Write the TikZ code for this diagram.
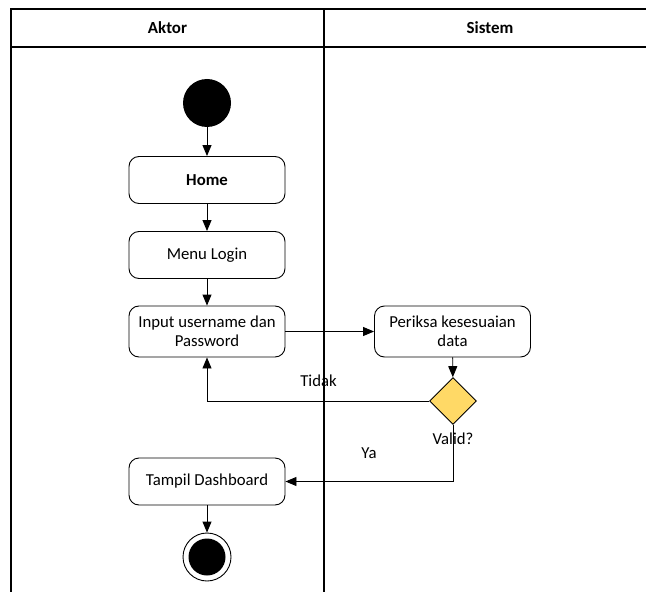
\documentclass[tikz,border=0pt]{standalone}
\usepackage{fontspec}
\setmainfont{Carlito}
\usetikzlibrary{shapes.geometric,arrows.meta}
\tikzset{
  act/.style={draw, line width=0.9bp, rounded corners=10bp, minimum width=156bp,
    minimum height=47bp, align=center, font=\fontsize{16.8}{19.5}\selectfont, inner sep=2bp},
  flow/.style={line width=0.9bp, -{Triangle[length=11bp,width=9bp]}},
  lane/.style={line width=1.2bp},
  lbl/.style={font=\fontsize{16.8}{19.5}\selectfont, inner sep=0pt},
  hdr/.style={font=\bfseries\fontsize{17}{20}\selectfont, inner sep=0pt},
}
\begin{document}
\begin{tikzpicture}[x=1bp, y=-1bp]
\useasboundingbox (0,0) rectangle (646,592);
% swimlane frame
\draw[lane] (11,592) -- (11,9) -- (646,9);
\draw[lane] (11,47) -- (646,47);
\draw[lane] (324,9) -- (324,592);
\node[hdr] (hA) at (167.5,28) {Aktor};
\node[hdr] (hS) at (490,28) {Sistem};
% activities
\node[circle, fill=black, minimum size=48bp, inner sep=0pt] (start) at (207,103) {};
\node[act, font=\bfseries\fontsize{16.8}{19.5}\selectfont] (home) at (207,180) {Home};
\node[act] (login) at (207,255) {Menu Login};
\node[act, minimum height=51bp] (input) at (207,331.5) {Input username dan\\Password};
\node[act, minimum height=51bp] (cek) at (452.5,331.5) {Periksa kesesuaian\\data};
\node[diamond, draw, fill={rgb,255:red,255;green,217;blue,102}, line width=0.9bp,
  minimum width=47bp, minimum height=47bp, inner sep=0pt] (valid) at (453,401) {};
\node[act] (dash) at (207,481.5) {Tampil Dashboard};
\node[circle, draw, line width=0.9bp, minimum size=48bp, inner sep=0pt] (end) at (207,557) {};
\node[circle, fill=black, minimum size=37bp, inner sep=0pt] (endin) at (207,557) {};
% labels
\node[lbl] (tidak) at (318.5,381) {Tidak};
\node[lbl] (q) at (453,439) {Valid?};
\node[lbl] (ya) at (369,453) {Ya};
% connectors
\draw[flow] (start) -- (home);
\draw[flow] (home) -- (login);
\draw[flow] (login) -- (input);
\draw[flow] (input) -- (cek);
\draw[flow] (cek) -- (valid);
\draw[flow] (valid.west) -| (input.south);
\draw[flow] (valid.south) |- (dash.east);
\draw[flow] (dash) -- (end);
\end{tikzpicture}
\end{document}
